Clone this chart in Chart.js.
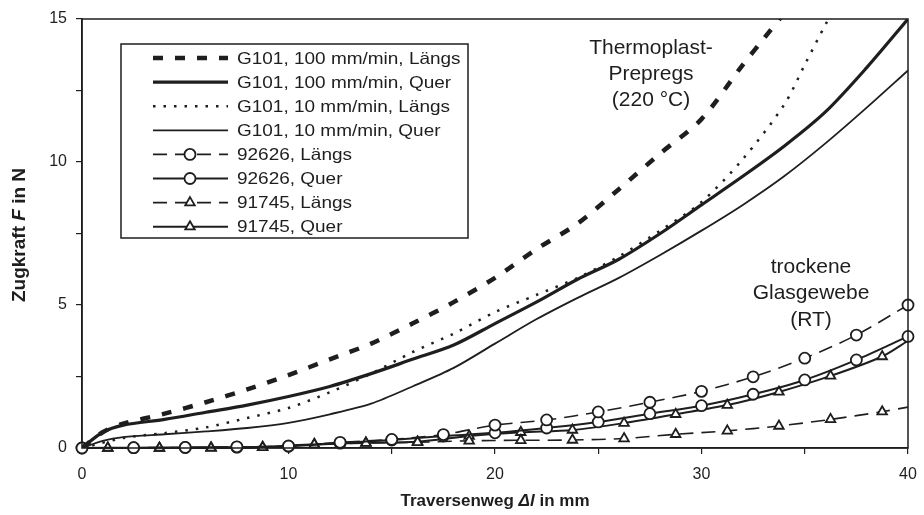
<!DOCTYPE html>
<html>
<head>
<meta charset="utf-8">
<script src="https://cdn.jsdelivr.net/npm/chart.js@4"></script>
<style>
  html, body { margin: 0; padding: 0; background: #fff; }
  #wrap { width: 924px; height: 515px; }
</style>
</head>
<body>
<div id="wrap"><canvas id="myChart" width="924" height="515"></canvas></div>
<script>
// G101 curves (x in mm, F in N)
const g100LaengsX = [0, 1, 2, 4, 6, 8, 10, 12, 14, 16, 18, 20, 22, 24, 26, 28, 30, 32, 33, 34];
const g100LaengsY = [0, 0.55, 0.85, 1.2, 1.6, 2.05, 2.55, 3.1, 3.65, 4.35, 5.1, 5.95, 6.95, 7.85, 9.05, 10.3, 11.5, 13.4, 14.3, 15.2];
const g100QuerX = [0, 1, 2, 4, 6, 8, 10, 12, 14, 16, 18, 20, 22, 24, 26, 28, 30, 32, 34, 36, 38, 40];
const g100QuerY = [0, 0.55, 0.8, 1.0, 1.25, 1.5, 1.8, 2.15, 2.6, 3.1, 3.6, 4.35, 5.1, 5.9, 6.6, 7.5, 8.5, 9.5, 10.55, 11.75, 13.3, 15];
const g10LaengsX = [0, 2, 4, 6, 8, 10, 12, 14, 16, 18, 20, 22, 24, 26, 28, 30, 32, 34, 35, 36, 36.4];
const g10LaengsY = [0, 0.35, 0.52, 0.72, 1.05, 1.4, 1.95, 2.6, 3.35, 4.0, 4.75, 5.35, 5.95, 6.7, 7.6, 8.6, 10.1, 12.0, 13.4, 14.8, 15.3];
const g10QuerX = [0, 1, 2, 4, 6, 8, 10, 12, 14, 16, 18, 20, 22, 24, 26, 28, 30, 32, 34, 36, 38, 40];
const g10QuerY = [0, 0.25, 0.38, 0.48, 0.58, 0.7, 0.88, 1.18, 1.55, 2.15, 2.8, 3.65, 4.5, 5.25, 5.95, 6.75, 7.6, 8.5, 9.5, 10.65, 11.9, 13.2];

// glass fabrics
const s92626X = [0, 2.5, 5, 7.5, 10, 12.5, 15, 17.5, 20, 22.5, 25, 27.5, 30, 32.5, 35, 37.5, 40];
const s92626LaengsY = [0, 0.01, 0.02, 0.04, 0.07, 0.2, 0.3, 0.47, 0.8, 0.98, 1.26, 1.6, 1.98, 2.49, 3.14, 3.95, 5.0];
const s92626QuerY = [0, 0.01, 0.02, 0.03, 0.06, 0.17, 0.28, 0.42, 0.53, 0.7, 0.91, 1.2, 1.48, 1.88, 2.38, 3.08, 3.9];
const s91745X = [1.25, 3.75, 6.25, 8.75, 11.25, 13.75, 16.25, 18.75, 21.25, 23.75, 26.25, 28.75, 31.25, 33.75, 36.25, 38.75, 40];
const s91745LaengsY = [0, 0, 0, 0.02, 0.12, 0.17, 0.2, 0.25, 0.27, 0.28, 0.33, 0.48, 0.6, 0.77, 1.0, 1.27, 1.43];
const s91745QuerY = [0, 0, 0.01, 0.03, 0.13, 0.18, 0.22, 0.42, 0.55, 0.63, 0.87, 1.18, 1.5, 1.96, 2.52, 3.2, 3.75];

const ink = "#1e1e1e";
const font = "'Liberation Sans', Arial, sans-serif";

function pts(xs, ys) {
  return xs.map((x, i) => ({ x: x, y: ys[i] }));
}
function lastHidden(xs) {
  return xs.map((x, i) => (i === xs.length - 1 ? 0 : 5.5));
}

const datasets = [
  { label: "G101, 100 mm/min, Längs", data: pts(g100LaengsX, g100LaengsY), borderWidth: 4.5, borderDash: [10, 12], pointRadius: 0 },
  { label: "G101, 100 mm/min, Quer", data: pts(g100QuerX, g100QuerY), borderWidth: 3.2, pointRadius: 0 },
  { label: "G101, 10 mm/min, Längs", data: pts(g10LaengsX, g10LaengsY), borderWidth: 2.5, borderDash: [2.5, 8], pointRadius: 0 },
  { label: "G101, 10 mm/min, Quer", data: pts(g10QuerX, g10QuerY), borderWidth: 1.8, pointRadius: 0 },
  { label: "92626, Längs", data: pts(s92626X, s92626LaengsY), borderWidth: 1.6, borderDash: [14, 8], pointStyle: "circle", pointRadius: 5.5, clip: false },
  { label: "92626, Quer", data: pts(s92626X, s92626QuerY), borderWidth: 2, pointStyle: "circle", pointRadius: 5.5, clip: false },
  { label: "91745, Längs", data: pts(s91745X, s91745LaengsY), borderWidth: 1.6, borderDash: [14, 8], pointStyle: "triangle", pointRadius: lastHidden(s91745X), clip: false },
  { label: "91745, Quer", data: pts(s91745X, s91745QuerY), borderWidth: 2, pointStyle: "triangle", pointRadius: lastHidden(s91745X), clip: false },
];
datasets.forEach(d => {
  d.borderColor = ink;
  d.backgroundColor = "#fff";
  d.pointBorderColor = ink;
  d.pointBackgroundColor = "#fff";
  d.pointBorderWidth = 1.8;
  d.showLine = true;
  d.tension = 0.3;
  d.fill = false;
});

// frame, axis titles, notes and the legend box
const decor = {
  id: "decor",
  afterDraw(chart) {
    const ctx = chart.ctx;
    const a = chart.chartArea;
    ctx.save();
    ctx.strokeStyle = ink;
    ctx.lineWidth = 1.5;
    ctx.strokeRect(a.left, a.top, a.right - a.left, a.bottom - a.top);

    function mixed(parts, cx, cy) {
      let w = 0;
      parts.forEach(p => { ctx.font = p[1]; w += ctx.measureText(p[0]).width; });
      let x = cx - w / 2;
      ctx.textBaseline = "middle";
      ctx.textAlign = "left";
      parts.forEach(p => { ctx.font = p[1]; ctx.fillText(p[0], x, cy); x += ctx.measureText(p[0]).width; });
    }
    ctx.fillStyle = ink;
    const b = "bold 17px " + font, bi = "italic bold 17px " + font;
    mixed([["Traversenweg ", b], ["Δl", bi], [" in mm", b]], 495, 501);
    ctx.save();
    ctx.translate(20, 235);
    ctx.rotate(-Math.PI / 2);
    const b2 = "bold 19px " + font, bi2 = "italic bold 19px " + font;
    mixed([["Zugkraft ", b2], ["F", bi2], [" in N", b2]], 0, 0);
    ctx.restore();

    ctx.font = "21px " + font;
    ctx.textAlign = "center";
    ctx.textBaseline = "middle";
    ["Thermoplast-", "Prepregs", "(220 °C)"].forEach((t, i) => ctx.fillText(t, 651, 48 + i * 26));
    ["trockene", "Glasgewebe", "(RT)"].forEach((t, i) => ctx.fillText(t, 811, 267 + i * 26.5));

    // legend
    const lx = 121, ly = 44, lw = 347, lh = 194;
    ctx.fillStyle = "#fff";
    ctx.fillRect(lx, ly, lw, lh);
    ctx.strokeStyle = ink;
    ctx.lineWidth = 1.5;
    ctx.strokeRect(lx, ly, lw, lh);
    chart.data.datasets.forEach((d, i) => {
      const y = 58 + i * 24.1;
      ctx.save();
      ctx.strokeStyle = ink;
      ctx.lineWidth = d.borderWidth;
      ctx.setLineDash(d.borderDash || []);
      ctx.beginPath();
      ctx.moveTo(153, y);
      ctx.lineTo(228, y);
      ctx.stroke();
      ctx.restore();
      if (d.pointStyle) {
        ctx.save();
        ctx.fillStyle = "#fff";
        ctx.strokeStyle = ink;
        ctx.lineWidth = 1.8;
        Chart.helpers.drawPoint(ctx, { pointStyle: d.pointStyle, radius: 5.5, rotation: 0, borderWidth: 1.8 }, 190, y);
        ctx.restore();
      }
      ctx.save();
      ctx.fillStyle = ink;
      ctx.font = "16.5px " + font;
      ctx.textAlign = "left";
      ctx.textBaseline = "middle";
      ctx.translate(237, y + 1);
      ctx.scale(1.15, 1);
      ctx.fillText(d.label, 0, 0);
      ctx.restore();
    });
    ctx.restore();
  }
};

const config = {
  type: "scatter",
  data: { datasets: datasets },
  options: {
    responsive: false,
    animation: false,
    layout: { padding: { top: 19, right: 16, left: 0, bottom: 0 } },
    plugins: { legend: { display: false }, tooltip: { enabled: false } },
    scales: {
      x: {
        type: "linear",
        min: 0,
        max: 40,
        afterFit: s => { s.height = 67; s.paddingRight = 0; s.paddingLeft = 0; },
        grid: { drawOnChartArea: false, tickLength: 6, color: ink, lineWidth: 1.2 },
        border: { color: ink, width: 1.5 },
        ticks: {
          stepSize: 5,
          color: ink,
          font: { family: font, size: 16 },
          padding: 11,
          maxRotation: 0,
          callback: v => (v % 10 === 0 ? String(v) : ""),
        },
      },
      y: {
        type: "linear",
        min: 0,
        max: 15,
        afterFit: s => { s.width = 82; s.paddingTop = 0; s.paddingBottom = 0; },
        grid: { drawOnChartArea: false, tickLength: 6, color: ink, lineWidth: 1.2 },
        border: { color: ink, width: 1.5 },
        ticks: {
          stepSize: 2.5,
          color: ink,
          font: { family: font, size: 16 },
          padding: 9,
          callback: v => (v % 5 === 0 ? String(v) : ""),
        },
      },
    },
  },
  plugins: [decor],
};

const myChart = new Chart(document.getElementById("myChart"), config);
</script>
</body>
</html>
